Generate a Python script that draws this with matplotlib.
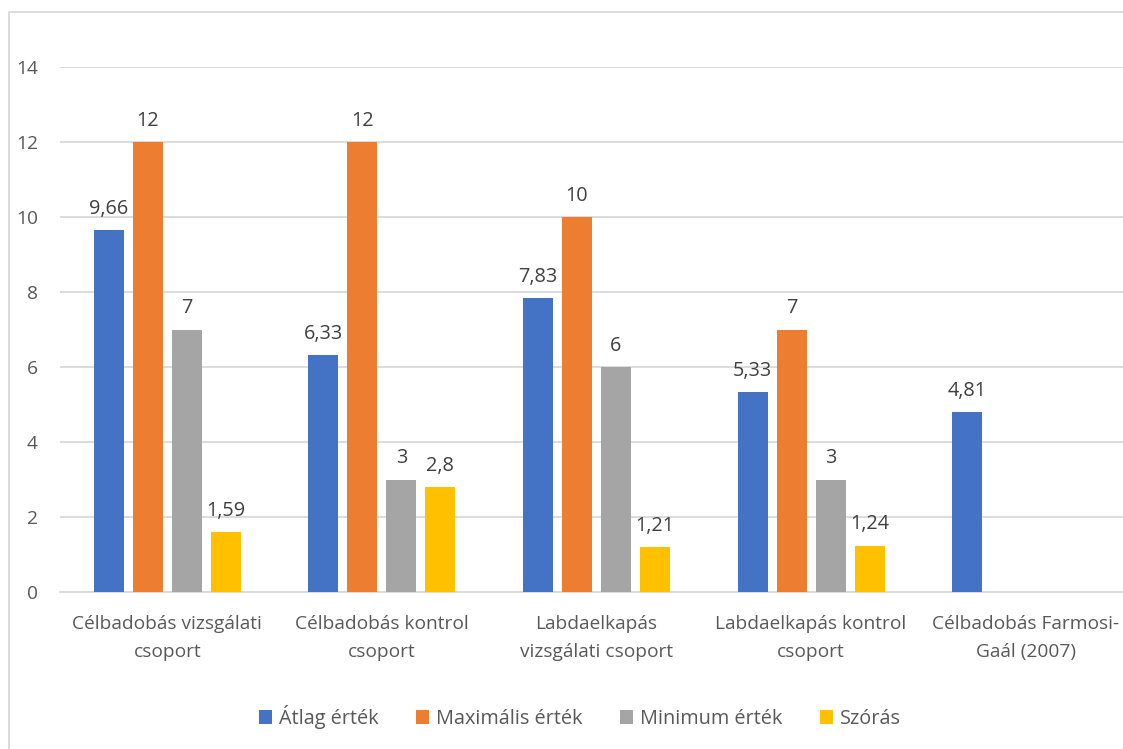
import matplotlib
matplotlib.use("Agg")
import matplotlib.pyplot as plt
import numpy as np
from matplotlib.patches import Rectangle

categories = ["Célbadobás vizsgálati\ncsoport", "Célbadobás kontrol\ncsoport",
              "Labdaelkapás\nvizsgálati csoport", "Labdaelkapás kontrol\ncsoport",
              "Célbadobás Farmosi-\nGaál (2007)"]
series_names = ["Átlag érték", "Maximális érték", "Minimum érték", "Szórás"]
atlag = [9.66, 6.33, 7.83, 5.33, 4.81]
maximum = [12, 12, 10, 7, np.nan]
minimum = [7, 3, 6, 3, np.nan]
szoras = [1.59, 2.8, 1.21, 1.24, np.nan]
yticks = [0, 2, 4, 6, 8, 10, 12, 14]

colors = ["#4472C4", "#ED7D31", "#A5A5A5", "#FFC000"]
txt = "#595959"
plt.rcParams['font.family'] = ['Open Sans', 'DejaVu Sans']
FS = 13.8

W, H = 1123, 749
fig = plt.figure(figsize=(W / 100, H / 100), dpi=100)
left, right = 60 / W, 1133 / W
bottom, top = 1 - 592 / H, 1 - 67 / H
ax = fig.add_axes([left, bottom, right - left, top - bottom])

# outer chart border
fig.patches.append(Rectangle((9 / W, -0.1), 1.2, 1 - 12 / H + 0.1,
                             transform=fig.transFigure, fill=False,
                             edgecolor="#D9D9D9", linewidth=1.3))

x = np.arange(len(categories))
step = 39 / 214.5
bw = 30 / 214.5
data = [atlag, maximum, minimum, szoras]
for i, (vals, c, name) in enumerate(zip(data, colors, series_names)):
    pos = x + (i - 1.5) * step
    ax.bar(pos, vals, width=bw, color=c, label=name, zorder=3)
    for p, v in zip(pos, vals):
        if np.isnan(v):
            continue
        s = f"{v:g}".replace(".", ",")
        ax.annotate(s, (p, v), xytext=(0, 8), textcoords="offset points",
                    ha="center", va="bottom", fontsize=FS + 0.5, color="#404040")

ax.set_xlim(-0.5, len(categories) - 0.5)
ax.set_ylim(0, 14)
ax.set_yticks(yticks)
ax.set_yticklabels([str(t) for t in yticks])
ax.set_xticks(x)
ax.set_xticklabels(categories, linespacing=1.75)
ax.tick_params(axis="both", length=0, labelsize=FS, labelcolor=txt)
ax.tick_params(axis="y", pad=16)
ax.tick_params(axis="x", pad=16.5)
ax.grid(axis="y", color="#D9D9D9", linewidth=1.3, zorder=0)
for sp in ["top", "right", "left"]:
    ax.spines[sp].set_visible(False)
ax.spines["bottom"].set_color("#D9D9D9")
ax.spines["bottom"].set_linewidth(1.3)

leg = ax.legend(loc="center", bbox_to_anchor=(580 / W, 1 - 717 / H),
                bbox_transform=fig.transFigure, ncol=4, frameon=False,
                handlelength=0.65, handleheight=0.65, handletextpad=0.35,
                columnspacing=1.9, fontsize=FS + 0.5)
for t in leg.get_texts():
    t.set_color(txt)

fig.savefig("out.png", dpi=100)
